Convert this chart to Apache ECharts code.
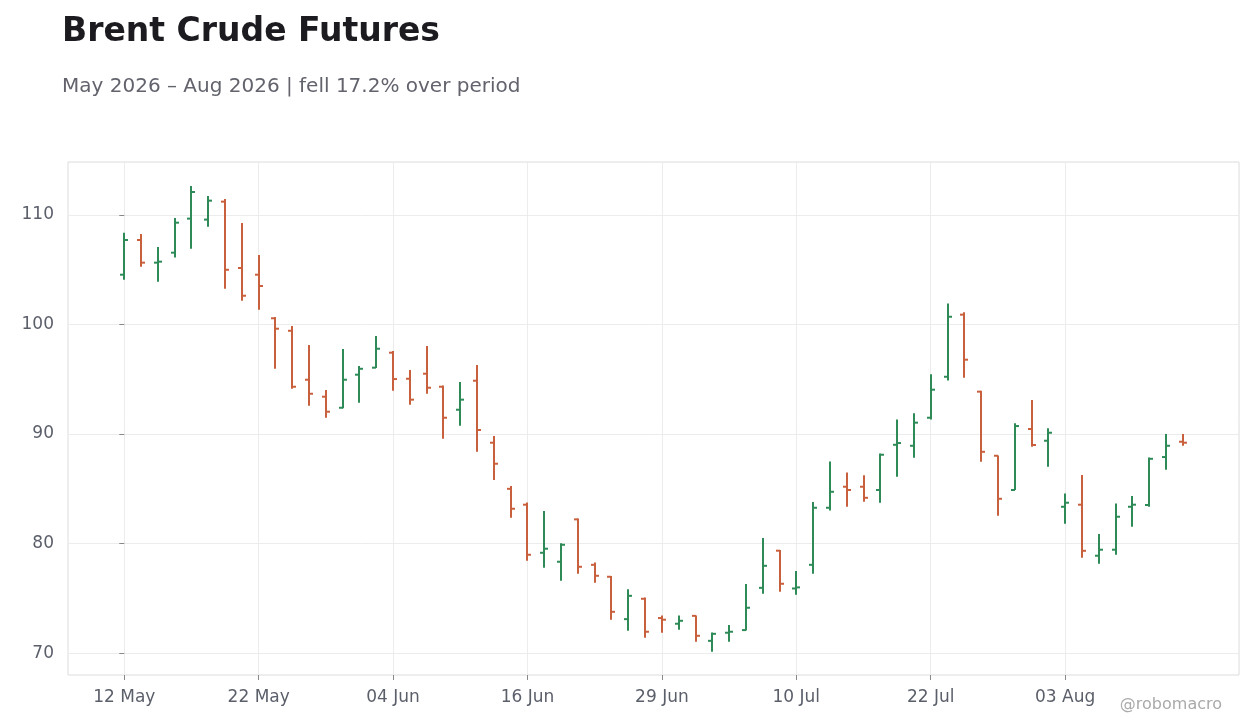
<!DOCTYPE html>
<html>
<head>
<meta charset="utf-8">
<title>Brent Crude Futures</title>
<script src="https://cdn.jsdelivr.net/npm/echarts@6/dist/echarts.min.js"></script>
<style>
  html, body { margin: 0; padding: 0; background: #fff; }
  #main { width: 1260px; height: 728px; }
</style>
</head>
<body>
<div id="main"></div>
<script>
// trading days (NYSE calendar), 12 May - 12 Aug 2026
var dates = [
  '12 May', '13 May', '14 May', '15 May', '18 May', '19 May', '20 May', '21 May', '22 May', '26 May',
  '27 May', '28 May', '29 May', '01 Jun', '02 Jun', '03 Jun', '04 Jun', '05 Jun', '08 Jun', '09 Jun',
  '10 Jun', '11 Jun', '12 Jun', '15 Jun', '16 Jun', '17 Jun', '18 Jun', '22 Jun', '23 Jun', '24 Jun',
  '25 Jun', '26 Jun', '29 Jun', '30 Jun', '01 Jul', '02 Jul', '06 Jul', '07 Jul', '08 Jul', '09 Jul',
  '10 Jul', '13 Jul', '14 Jul', '15 Jul', '16 Jul', '17 Jul', '20 Jul', '21 Jul', '22 Jul', '23 Jul',
  '24 Jul', '27 Jul', '28 Jul', '29 Jul', '30 Jul', '31 Jul', '03 Aug', '04 Aug', '05 Aug', '06 Aug',
  '07 Aug', '10 Aug', '11 Aug', '12 Aug'
];

var opens = [
  104.55, 107.72, 105.65, 106.56, 109.67, 109.58, 111.22, 105.16, 104.55, 100.57,
  99.43, 94.96, 93.41, 92.40, 95.42, 96.06, 97.43, 95.05, 95.51, 94.32,
  92.22, 94.87, 89.21, 85.00, 83.55, 79.16, 78.34, 82.21, 78.06, 76.97,
  73.10, 74.96, 73.20, 72.68, 73.40, 71.12, 71.86, 72.10, 75.96, 79.35,
  75.90, 78.06, 83.27, 85.19, 85.19, 84.89, 89.02, 88.93, 91.49, 95.23,
  100.90, 93.87, 88.02, 84.89, 90.46, 89.39, 83.36, 83.55, 78.89, 79.44,
  83.36, 83.52, 87.90, 89.30
];
var highs = [
  108.38, 108.26, 107.08, 109.73, 112.65, 111.74, 111.46, 109.27, 106.35, 100.68,
  99.86, 98.13, 94.02, 97.76, 96.21, 98.95, 97.58, 95.84, 98.04, 94.44,
  94.75, 96.30, 89.82, 85.25, 83.76, 82.97, 80.02, 82.30, 78.28, 77.03,
  75.84, 75.08, 73.44, 73.44, 73.44, 71.89, 72.56, 76.30, 80.50, 79.41,
  77.49, 83.79, 87.50, 86.50, 86.23, 88.23, 91.34, 91.89, 95.45, 101.93,
  101.11, 93.95, 88.05, 90.98, 93.11, 90.52, 84.58, 86.26, 80.87, 83.67,
  84.34, 87.87, 90.00, 90.00
];
var lows = [
  104.09, 105.28, 103.91, 106.11, 106.93, 108.93, 103.27, 102.17, 101.35, 95.96,
  94.14, 92.59, 91.49, 92.35, 92.86, 96.03, 93.96, 92.68, 93.68, 89.57,
  90.76, 88.38, 85.80, 82.36, 78.43, 77.79, 76.60, 77.24, 76.42, 73.04,
  72.04, 71.40, 71.86, 72.13, 71.03, 70.12, 71.03, 72.07, 75.42, 75.60,
  75.33, 77.24, 83.03, 83.36, 83.82, 83.73, 86.10, 87.84, 91.34, 94.90,
  95.14, 87.47, 82.54, 84.89, 88.84, 87.01, 81.81, 78.70, 78.16, 78.98,
  81.54, 83.36, 86.74, 88.93
];
var closes = [
  107.72, 105.65, 105.74, 109.30, 112.10, 111.31, 105.00, 102.63, 103.52, 99.62,
  94.32, 93.68, 92.04, 94.96, 95.96, 97.79, 95.02, 93.14, 94.23, 91.49,
  93.14, 90.37, 87.29, 83.18, 78.98, 79.53, 79.89, 77.88, 77.06, 73.77,
  75.23, 71.95, 73.05, 72.95, 71.58, 71.76, 71.95, 74.14, 77.97, 76.33,
  76.00, 83.27, 84.73, 84.89, 84.18, 88.11, 89.18, 91.04, 94.05, 100.71,
  96.79, 88.38, 84.09, 90.73, 89.00, 90.12, 83.73, 79.34, 79.44, 82.45,
  83.55, 87.74, 88.93, 89.21
];

var xTicks = [0, 8, 16, 24, 32, 40, 48, 56];
var yTicks = [70, 80, 90, 100, 110];

var UP = '#2e8b57';
var DOWN = '#c9603d';
var TEXT = '#5b5f6a';

var ohlc = dates.map(function (d, i) {
  return [i, opens[i], highs[i], lows[i], closes[i]];
});

function renderBar(params, api) {
  var i = api.value(0);
  var o = api.coord([i, api.value(1)]);
  var h = api.coord([i, api.value(2)]);
  var l = api.coord([i, api.value(3)]);
  var c = api.coord([i, api.value(4)]);
  var x = Math.round(h[0]);
  var col = api.value(4) >= api.value(1) ? UP : DOWN;
  var st = { stroke: col, lineWidth: 2 };
  return {
    type: 'group',
    children: [
      { type: 'line', shape: { x1: x, y1: h[1], x2: x, y2: l[1] }, style: st },
      { type: 'line', shape: { x1: x - 4, y1: o[1], x2: x, y2: o[1] }, style: st },
      { type: 'line', shape: { x1: x, y1: c[1], x2: x + 4, y2: c[1] }, style: st }
    ]
  };
}

var chart = echarts.init(document.getElementById('main'));
chart.setOption({
  backgroundColor: '#fff',
  animation: false,
  textStyle: { fontFamily: 'DejaVu Sans' },
  title: [
    {
      text: 'Brent Crude Futures',
      left: 62, top: 16, padding: 0,
      textStyle: { fontSize: 33, fontWeight: 'bold', color: '#1b1b20', fontFamily: 'DejaVu Sans' }
    },
    {
      text: 'May 2026 \u2013 Aug 2026 | fell 17.2% over period',
      left: 62, top: 77, padding: 0,
      textStyle: { fontSize: 20, fontWeight: 'normal', color: '#62636c', fontFamily: 'DejaVu Sans' }
    }
  ],
  grid: {
    left: 68, right: 21, top: 162, bottom: 53,
    show: true, borderColor: '#dcdcdc', borderWidth: 1, backgroundColor: 'transparent'
  },
  xAxis: {
    type: 'value',
    min: -3.35, max: 66.35,
    axisLine: { show: false },
    axisTick: { show: true, length: 5, lineStyle: { color: '#888' }, customValues: xTicks },
    axisLabel: {
      color: TEXT, fontSize: 17, margin: 14,
      customValues: xTicks,
      formatter: function (v) { return dates[Math.round(v)] || ''; }
    },
    splitLine: { show: true, lineStyle: { color: '#ececec', width: 1 } }
  },
  yAxis: {
    type: 'value',
    min: 68, max: 114.84,
    axisLine: { show: false },
    axisTick: { show: true, length: 5, lineStyle: { color: '#888' }, customValues: yTicks },
    axisLabel: { color: TEXT, fontSize: 17, margin: 14, customValues: yTicks },
    splitLine: { show: true, lineStyle: { color: '#ececec', width: 1 } }
  },
  series: [{
    type: 'custom',
    renderItem: renderBar,
    encode: { x: 0, y: [1, 2, 3, 4] },
    data: ohlc
  }],
  graphic: [{
    type: 'text',
    right: 38, top: 697,
    style: { text: '@robomacro', fill: '#aaaaaa', font: '16px "DejaVu Sans"' }
  }]
});
</script>
</body>
</html>
